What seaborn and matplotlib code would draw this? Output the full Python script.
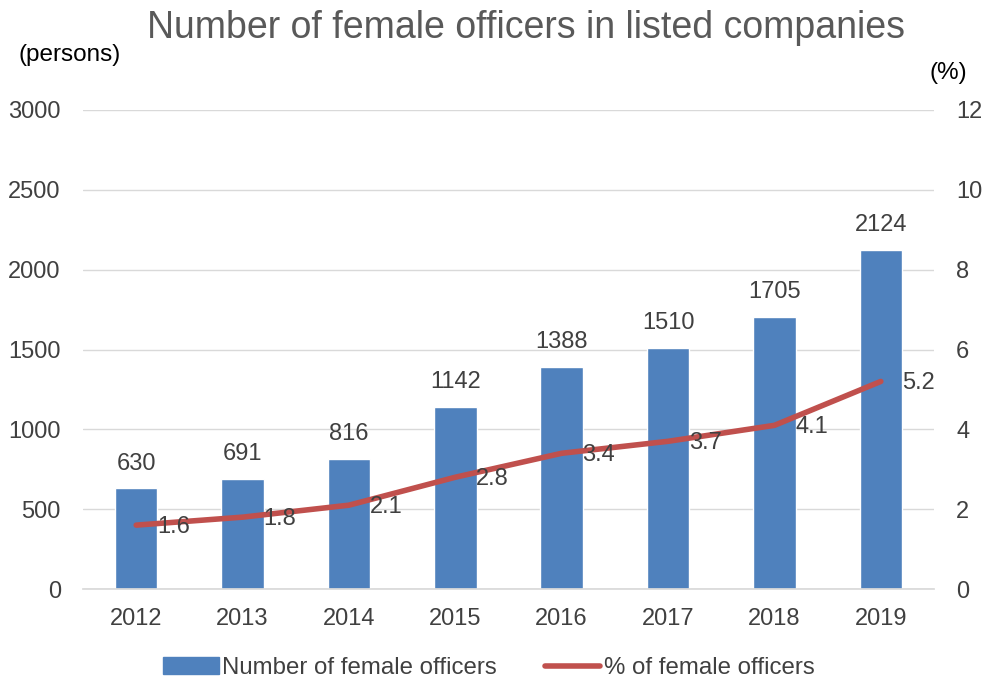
import matplotlib
matplotlib.use("Agg")
import matplotlib.pyplot as plt
import seaborn as sns
import pandas as pd
import numpy as np

years = ["2012", "2013", "2014", "2015", "2016", "2017", "2018", "2019"]
officers = [630, 691, 816, 1142, 1388, 1510, 1705, 2124]
percent = [1.6, 1.8, 2.1, 2.8, 3.4, 3.7, 4.1, 5.2]

sns.set_theme(style="white")
plt.rcParams['font.family'] = ['Liberation Sans', 'DejaVu Sans']

BAR = "#4F81BD"
LINE = "#C0504D"
TXT = "#404040"
GRID = "#D9D9D9"

df = pd.DataFrame({"year": years, "officers": officers, "percent": percent})

fig = plt.figure(figsize=(9.85, 6.81), dpi=100)
ax = fig.add_axes([83/985, 1-589/681, (934-83)/985, (589-110)/681])
sns.barplot(data=df, x="year", y="officers", color=BAR, width=0.4, saturation=1, ax=ax, zorder=2)
ax.set_ylim(0, 3000)
ax.set_yticks(np.arange(0, 3001, 500))
ax.set_xlim(-0.5, len(years)-0.5)
ax.grid(axis="y", color=GRID, linewidth=1, zorder=0)
ax.set_axisbelow(True)
for s in ["top", "left", "right"]:
    ax.spines[s].set_visible(False)
ax.spines["bottom"].set_color(GRID)
ax.tick_params(axis="y", colors=TXT, labelsize=17, length=0, pad=16)
ax.tick_params(axis="x", colors=TXT, labelsize=17, length=0, pad=14)
ax.set_xlabel("")
ax.set_ylabel("")
for i, v in enumerate(officers):
    ax.annotate(str(v), (i, v), xytext=(0, 10), textcoords="offset points",
                ha="center", va="bottom", fontsize=17, color=TXT)

ax2 = ax.twinx()
sns.lineplot(x=np.arange(len(years)), y=percent, color=LINE, linewidth=4, ax=ax2, zorder=3)
ax2.set_ylim(0, 12)
ax2.set_yticks(np.arange(0, 13, 2))
for s in ["top", "left", "right", "bottom"]:
    ax2.spines[s].set_visible(False)
ax2.tick_params(axis="y", colors=TXT, labelsize=17, length=0, pad=16)
ax2.set_ylabel("")
for i, v in enumerate(percent):
    ax2.annotate(f"{v}", (i, v), xytext=(15, -1), textcoords="offset points",
                 ha="left", va="center", fontsize=17, color=TXT)

fig.text(526/985, 1-28/681, "Number of female officers in listed companies",
         ha="center", va="center", fontsize=27, color="#595959")
fig.text(70/985, 1-55/681, "(persons)", ha="center", va="center", fontsize=17.5, color="#000000")
fig.text(948/985, 1-73/681, "(%)", ha="center", va="center", fontsize=17.5, color="#000000")

from matplotlib.patches import Patch
from matplotlib.lines import Line2D
handles = [Patch(color=BAR, label="Number of female officers"),
           Line2D([0], [0], color=LINE, linewidth=4, label="% of female officers")]
fig.legend(handles=handles, loc="center", bbox_to_anchor=(489/985, 1-668/681), ncol=2,
           frameon=False, fontsize=17.3, handlelength=2.3, handleheight=0.7,
           handletextpad=0.15, columnspacing=2.0, labelcolor=TXT)

fig.savefig("out.png", dpi=100)
